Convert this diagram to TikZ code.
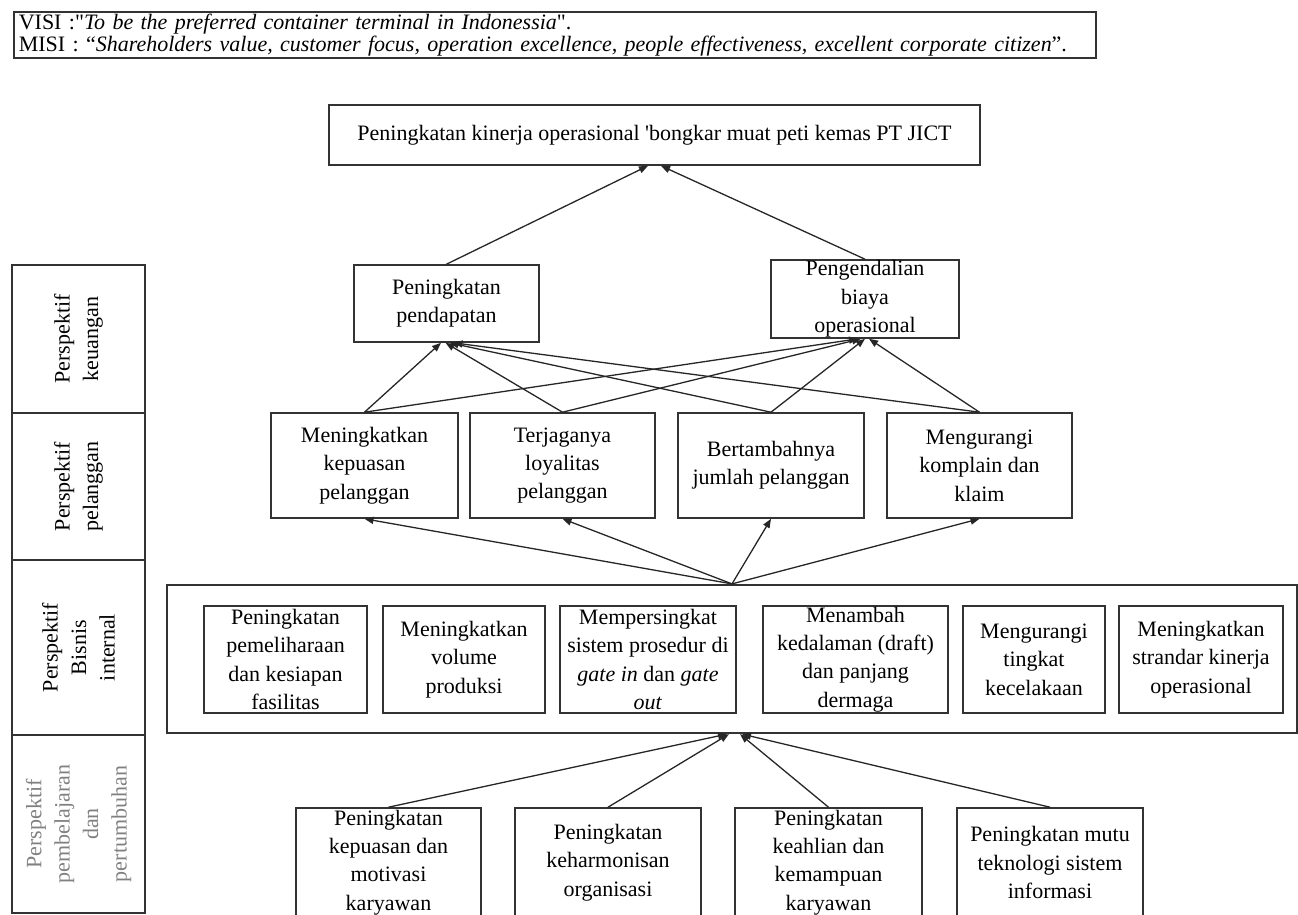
\documentclass[tikz,border=0pt]{standalone}
\usepackage{fontspec}
\setmainfont{Liberation Serif}
\usetikzlibrary{arrows.meta}
\newcommand{\boxfont}{\fontsize{11}{14.2}\selectfont}

\begin{document}
\begin{tikzpicture}[
    x=0.5pt, y=-0.5pt,
    base/.style={
      rectangle, draw=black!80, line width=0.8pt, inner sep=0pt,
      align=center, font=\boxfont, text=black
    },
    finbox/.style={base, minimum width=93pt, minimum height=38.5pt},
    custbox/.style={base, minimum width=93pt, minimum height=52.5pt},
    bizbox/.style={base, minimum width=82pt, minimum height=53.5pt},
    learnbox/.style={base, minimum width=93pt, minimum height=54.5pt},
    perscell/.style={base, rotate=90, minimum height=66.5pt},
    arr/.style={-{Triangle[length=4.5pt,width=3.5pt]}, black!85, line width=0.65pt},
  ]
  \useasboundingbox (0,0) rectangle (1298,915);
  \clip (0,0) rectangle (1298,915);

  % Visi dan misi
  \node[base, anchor=north west, align=left, text width=536pt, inner xsep=2.5pt,
        inner ysep=1pt, minimum height=23pt, font=\fontsize{11}{11}\selectfont]
    (visi) at (13,11)
    {VISI :\textquotedbl\textit{To be the preferred container terminal in Indonessia}\textquotedbl.\\
     MISI : “\textit{Shareholders value, customer focus, operation excellence, people effectiveness, excellent corporate citizen}”.};

  % Sasaran utama
  \node[base, minimum width=325.5pt, minimum height=30pt] (goal) at (654.5,135)
    {Peningkatan kinerja operasional \textquotesingle bongkar muat peti kemas PT JICT};

  % Kolom perspektif
  \node[perscell, minimum width=74pt] (pkeu) at (78.5,339) {Perspektif\\keuangan};
  \node[perscell, minimum width=73.5pt] (ppel) at (78.5,486.5) {Perspektif\\pelanggan};
  \node[perscell, minimum width=87.5pt] (pbis) at (78.5,647.5) {Perspektif\\Bisnis\\internal};
  \node[perscell, minimum width=89pt, text=black!50] (pbel) at (78.5,824)
    {Perspektif\\pembelajaran\\dan\\pertumbuhan};

  % Perspektif keuangan
  \node[finbox, minimum width=92.5pt] (pendapatan) at (446.5,303.5) {Peningkatan\\pendapatan};
  \node[finbox, minimum width=94pt, minimum height=39pt] (biaya) at (865,299)
    {Pengendalian\\biaya\\operasional};

  % Perspektif pelanggan
  \node[custbox, minimum width=93.5pt] (kepuasan) at (364.5,465.5) {Meningkatkan\\kepuasan\\pelanggan};
  \node[custbox, minimum width=92.5pt] (loyalitas) at (562.5,465.5) {Terjaganya\\loyalitas\\pelanggan};
  \node[custbox] (jumlah) at (771,465.5) {Bertambahnya\\jumlah pelanggan};
  \node[custbox, minimum width=92.5pt] (komplain) at (979.5,465.5) {Mengurangi\\komplain dan\\klaim};

  % Perspektif bisnis internal
  \node[base, line width=1.1pt, minimum width=565pt, minimum height=74pt] (bisnis) at (732,659) {};
  \node[bizbox, minimum width=81.5pt] (fasilitas) at (285.5,659.5)
    {Peningkatan\\pemeliharaan\\dan kesiapan\\fasilitas};
  \node[bizbox, minimum width=81pt] (volume) at (464,659.5) {Meningkatkan\\volume\\produksi};
  \node[bizbox, minimum width=88pt] (prosedur) at (648,659.5)
    {Mempersingkat\\sistem prosedur di\\\textit{gate in} dan \textit{gate}\\\textit{out}};
  \node[bizbox, minimum width=92.5pt] (dermaga) at (855.5,659.5)
    {Menambah\\kedalaman (draft)\\dan panjang\\dermaga};
  \node[bizbox, minimum width=71pt] (kecelakaan) at (1034,659.5) {Mengurangi\\tingkat\\kecelakaan};
  \node[bizbox] (standar) at (1201,659.5) {Meningkatkan\\strandar kinerja\\operasional};

  % Perspektif pembelajaran dan pertumbuhan
  \node[learnbox, minimum width=92.5pt] (motivasi) at (388.5,862.5)
    {Peningkatan\\kepuasan dan\\motivasi\\karyawan};
  \node[learnbox] (harmonis) at (608,862.5) {Peningkatan\\keharmonisan\\organisasi};
  \node[learnbox, minimum width=93.5pt] (keahlian) at (828.5,862.5)
    {Peningkatan\\keahlian dan\\kemampuan\\karyawan};
  \node[learnbox] (teknologi) at (1050,862.5) {Peningkatan mutu\\teknologi sistem\\informasi};

  % Arrows
  \draw[arr] (pendapatan.north) -- ([xshift=-3.25pt]goal.south);
  \draw[arr] (biaya.north) -- ([xshift=3.25pt]goal.south);
  \foreach \c/\s in {kepuasan/-2.75, loyalitas/-0.5, jumlah/1.5, komplain/3.5}
    \draw[arr] (\c.north) -- ([xshift=\s pt]pendapatan.south);
  \foreach \c/\s in {kepuasan/-3.5, loyalitas/-2, jumlah/0, komplain/2}
    \draw[arr] (\c.north) -- ([xshift=\s pt]biaya.south);
  \foreach \c in {kepuasan, loyalitas, jumlah, komplain}
    \draw[arr] (bisnis.north) -- (\c.south);
  \foreach \c/\s in {motivasi/-2.5, harmonis/-1.5, keahlian/4, teknologi/5}
    \draw[arr] (\c.north) -- ([xshift=\s pt]bisnis.south);

\end{tikzpicture}
\end{document}
